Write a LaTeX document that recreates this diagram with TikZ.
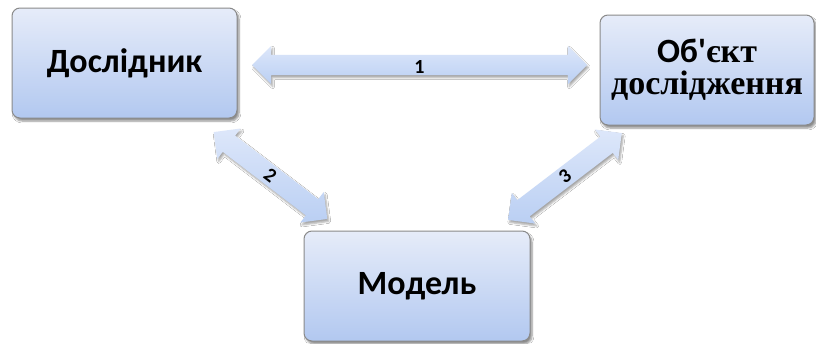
\documentclass[tikz,border=0pt]{standalone}
\usepackage{fontspec}
\setmainfont{Carlito}
\newfontfamily\serifcyr{Liberation Serif}
\usetikzlibrary{shapes.arrows,shadows,shadows.blur,calc}
\definecolor{boxtop}{HTML}{E6ECF9}
\definecolor{boxbot}{HTML}{B2C8F0}
\definecolor{boxline}{HTML}{8A8A8A}
\definecolor{arrtop}{HTML}{DDE7FA}
\definecolor{arrbot}{HTML}{BACFF3}
\begin{document}
\begin{tikzpicture}[x=1pt,y=-1pt,
  boxnode/.style={draw=boxline, line width=1pt, rounded corners=8pt,
    top color=boxtop, bottom color=boxbot, minimum height=110pt,
    blur shadow={shadow blur steps=6, shadow xshift=2pt, shadow yshift=-3pt, shadow opacity=45},
    font=\fontsize{34}{30}\selectfont\bfseries, align=center},
  dblarrow/.style={double arrow, draw=none, inner sep=10pt, minimum width=38pt,
    double arrow head extend=9pt, double arrow tip angle=90,
    top color=arrtop, bottom color=arrbot,
    blur shadow={shadow blur steps=4, shadow xshift=1.5pt, shadow yshift=-2.5pt, shadow opacity=35}},
  numlabel/.style={font=\fontsize{20}{21}\selectfont\bfseries, inner sep=0pt}
]
\useasboundingbox[fill=white] (0,0) rectangle (816,343);
\node[boxnode, minimum width=214pt] (B) at (707,70) {};
\node[boxnode, minimum width=225pt] (A) at (124.5,63) {Дослідник};
\node[boxnode, minimum width=226pt] (C) at (417,286) {Модель};
\node[font=\fontsize{34}{30}\selectfont\bfseries, inner sep=0pt, anchor=base] (B1) at ([yshift=8pt]B.center) {Об\textquotesingle{\serifcyr\fontsize{34}{30}\selectfont єкт}};
\node[font=\serifcyr\fontsize{34}{30}\selectfont\bfseries, inner sep=0pt, anchor=base] (B2) at ([yshift=-24pt]B.center) {дослідження};
% arrows
\node[dblarrow, minimum height=335pt] (ar1) at (419.5,65) {};
\node[dblarrow, minimum height=143pt, rotate=-37.4] (ar2) at (270.5,175.5) {};
\node[dblarrow, minimum height=143pt, rotate=37.4] (ar3) at (565,176.5) {};
\node[numlabel] (l1) at ([yshift=-2pt]ar1.center) {1};
\node[numlabel, rotate=-37.4] (l2) at (ar2.center) {2};
\node[numlabel, rotate=37.4] (l3) at (ar3.center) {3};
\end{tikzpicture}
\end{document}
